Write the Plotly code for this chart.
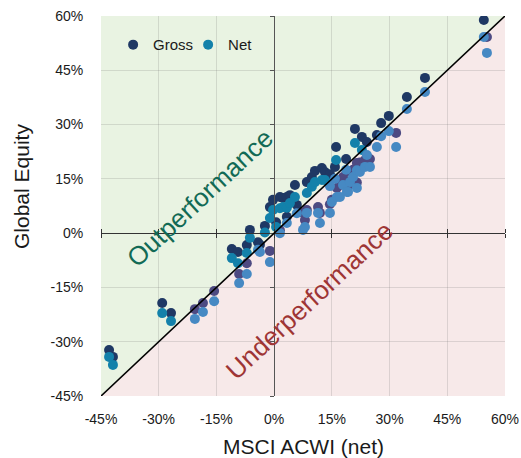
import plotly.graph_objects as go

# MSCI ACWI (net) returns, %
acwi = [-42.9, -41.9, -29.1, -26.8, -20.6, -18.5, -15.6, -11.0, -9.4, -9.1, -7.1, -7.1, -6.3, -4.2, -3.7,
        -2.4, -1.1, -1.1, -0.3, 0.5, 1.5, 1.5, 2.3, 3.3, 3.3, 4.1, 5.4, 5.9, 7.5, 8.0, 8.5, 8.5, 9.8,
        10.6, 11.4, 11.9, 12.4, 13.2, 14.5, 14.5, 15.0, 15.8, 16.1, 16.3, 17.1, 17.9, 18.7, 18.9, 19.2,
        19.7, 20.5, 21.0, 21.5, 21.5, 22.3, 22.8, 23.6, 24.1, 24.9, 26.7, 27.8, 29.8, 31.7, 34.5, 39.2,
        54.5, 55.3]
# Global Equity gross returns, %
gross = [-32.3, -34.2, -19.3, -22.1, -21.0, -19.3, -16.0, -4.4, -5.2, -11.3, -8.3, -3.3, 0.9, -2.5, -3.2,
         2.0, 7.2, -4.9, 9.2, 3.0, 10.0, 0.8, 9.7, 10.0, 4.5, 10.5, 13.3, 7.8, 5.6, 3.6, 14.1, 6.4, 15.5,
         17.2, 7.2, 5.6, 18.0, 16.9, 16.3, 8.0, 9.2, 18.3, 23.8, 12.5, 13.3, 15.5, 20.5, 14.1, 13.0,
         17.0, 17.5, 28.8, 19.4, 14.0, 19.5, 26.6, 20.2, 25.2, 20.5, 27.1, 30.4, 32.4, 27.7, 37.6, 42.9,
         58.9, 54.2]
# Global Equity net returns, %
net = [-34.2, -36.4, -22.1, -24.3, -23.7, -21.8, -18.8, -6.9, -8.3, -13.8, -11.3, -5.5, -1.3, -4.6, -5.2,
       0.2, 4.2, -8.0, 6.4, 1.7, 6.9, 0.0, 7.2, 7.0, 2.8, 8.3, 10.0, 5.5, 0.9, 1.7, 11.1, 5.6, 12.8,
       14.1, 5.6, 2.8, 14.7, 14.7, 13.0, 5.6, 8.6, 15.0, 20.2, 10.0, 10.0, 13.3, 17.5, 11.4, 11.4,
       14.1, 15.5, 24.9, 17.4, 12.5, 16.9, 23.0, 18.3, 21.6, 18.3, 23.8, 26.8, 28.2, 23.8, 34.3, 39.0,
       54.2, 49.8]

tick_vals = [-45, -30, -15, 0, 15, 30, 45, 60]
tick_text = ["-45%", "-30%", "-15%", "0%", "15%", "30%", "45%", "60%"]
LO, HI = -45, 60

GROSS_C, GROSS_BELOW = "#1f3864", "#4d4a82"
NET_C, NET_BELOW = "#1381aa", "#4689c3"

gross_colors = [GROSS_C if g >= a else GROSS_BELOW for a, g in zip(acwi, gross)]
net_colors = [NET_C if n >= a else NET_BELOW for a, n in zip(acwi, net)]

FONT = "Liberation Sans, Arial, sans-serif"

fig = go.Figure()
fig.add_trace(go.Scatter(x=acwi, y=gross, mode="markers", name="Gross",
                         marker=dict(color=gross_colors, size=10, line=dict(width=0))))
fig.add_trace(go.Scatter(x=acwi, y=net, mode="markers", name="Net",
                         marker=dict(color=net_colors, size=10, line=dict(width=0))))
# empty traces so that the axes crossing at zero are drawn
for xa, ya in (("x2", "y"), ("x3", "y"), ("x", "y2")):
    fig.add_trace(go.Scatter(x=[], y=[], xaxis=xa, yaxis=ya, mode="markers",
                             showlegend=False, hoverinfo="skip"))

zero_pos = (0 - LO) / (HI - LO)

fig.update_layout(
    width=521, height=458,
    margin=dict(l=101, r=16, t=16, b=62, autoexpand=False),
    paper_bgcolor="white", plot_bgcolor="white",
    font=dict(family=FONT, color="#1a1a1a", size=14),
    showlegend=True,
    legend=dict(orientation="h", x=0.03, y=0.924, xanchor="left", yanchor="middle",
                bgcolor="rgba(0,0,0,0)", font=dict(size=15, color="#1a1a1a"),
                entrywidth=30, entrywidthmode="pixels", tracegroupgap=0),
    xaxis=dict(range=[LO, HI], tickvals=tick_vals, ticktext=tick_text, showgrid=True,
               gridcolor="rgba(110,110,110,0.2)", gridwidth=1, zeroline=False, showline=False,
               ticks="outside", ticklen=10, tickcolor="rgba(0,0,0,0)", tickfont=dict(size=14)),
    yaxis=dict(range=[LO, HI], tickvals=tick_vals, ticktext=tick_text, showgrid=True,
               gridcolor="rgba(110,110,110,0.2)", gridwidth=1, zeroline=False, showline=False,
               ticks="outside", ticklen=14, tickcolor="rgba(0,0,0,0)", tickfont=dict(size=14)),
    xaxis2=dict(overlaying="x", anchor="free", position=zero_pos, range=[LO, HI], tickvals=tick_vals,
                showticklabels=False, showgrid=False, zeroline=False, showline=True,
                linecolor="#333333", linewidth=1.3, ticks="outside", ticklen=4, tickcolor="#333333", side="bottom"),
    xaxis3=dict(overlaying="x", anchor="free", position=zero_pos, range=[LO, HI], tickvals=tick_vals,
                showticklabels=False, showgrid=False, zeroline=False, showline=False,
                ticks="outside", ticklen=4, tickcolor="#333333", side="top"),
    yaxis2=dict(overlaying="y", anchor="free", position=zero_pos, range=[LO, HI], tickvals=tick_vals,
                showticklabels=False, showgrid=False, zeroline=False, showline=True,
                linecolor="#555555", linewidth=1.3, ticks="outside", ticklen=4, tickcolor="#555555", side="left"),
)

# background regions
fig.add_shape(type="path", path=f"M {LO},{LO} L {LO},{HI} L {HI},{HI} Z", xref="x", yref="y",
              fillcolor="#e9f3e2", line=dict(width=0), layer="below")
fig.add_shape(type="path", path=f"M {LO},{LO} L {HI},{LO} L {HI},{HI} Z", xref="x", yref="y",
              fillcolor="#f7e9e9", line=dict(width=0), layer="below")
# diagonal
fig.add_shape(type="line", x0=LO, y0=LO, x1=HI, y1=HI, xref="x", yref="y",
              line=dict(color="black", width=1.6), layer="above")

fig.add_annotation(x=-19.3, y=9.7, xref="x", yref="y", text="Outperformance", showarrow=False,
                   textangle=-43, font=dict(size=26, color="#126a55", family=FONT))
fig.add_annotation(x=9.3, y=-18.5, xref="x", yref="y", text="Underperformance", showarrow=False,
                   textangle=-43, font=dict(size=26, color="#9e3535", family=FONT))

fig.add_annotation(x=0.5, y=-0.134, xref="paper", yref="paper", text="MSCI ACWI (net)", showarrow=False,
                   yanchor="middle", font=dict(size=21, color="#1a1a1a", family=FONT))
fig.add_annotation(x=-0.1955, y=0.55, xref="paper", yref="paper", text="Global Equity", showarrow=False,
                   textangle=-90, xanchor="center", font=dict(size=21, color="#1a1a1a", family=FONT))

fig.write_html("out.html", config={"displayModeBar": False},
               post_script="document.body.style.margin='0';document.body.style.overflow='hidden';")
